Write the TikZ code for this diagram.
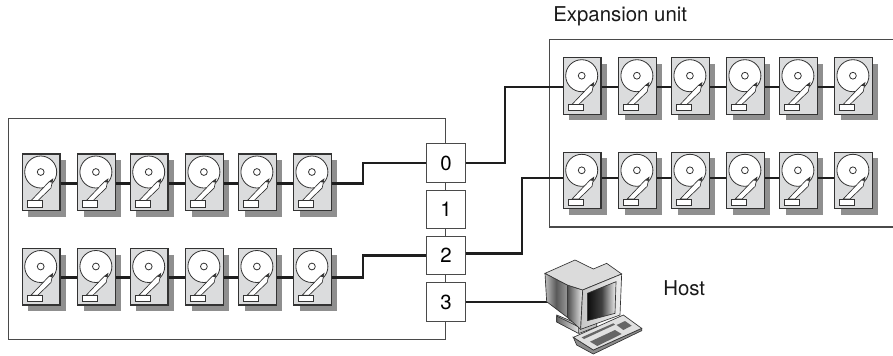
\documentclass[tikz,border=0pt]{standalone}
\usepackage{fontspec}
\setmainfont{TeX Gyre Heros}
\definecolor{edge}{HTML}{333333}
\definecolor{boxline}{HTML}{4A4A4A}
\definecolor{body}{HTML}{DBDCDD}
\definecolor{shade}{HTML}{8F8F8F}
\definecolor{link}{HTML}{1E1E1E}
\tikzset{
  px/.style={x=0.75pt,y=-0.75pt},
  diskbody/.style={draw=edge,fill=body,line width=0.8pt,minimum width=28.3pt,minimum height=42.4pt,inner sep=0pt},
  diskshadow/.style={fill=shade,draw=none},
  diskpart/.style={draw=edge,fill=white,line width=0.6pt},
  conn/.style={draw=link,line width=2pt,line join=miter},
  portbox/.style={draw=boxline,fill=white,line width=0.8pt,minimum width=28.8pt,minimum height=28.8pt,inner sep=0pt,font=\fontsize{15.3pt}{18pt}\selectfont},
  frameline/.style={draw=boxline,line width=0.8pt},
  lbl/.style={font=\fontsize{15.3pt}{18pt}\selectfont,inner sep=0pt,text=black!90},
  pcline/.style={draw=edge,line width=0.5pt}
}
% name, left, top
\newcommand{\hdd}[3]{%
  \begin{scope}[shift={(#2,#3)}]
    \fill[diskshadow] (6,6) rectangle (43.7,62.5);
    \node[diskbody] (#1) at (18.85,28.25) {};
    \draw[diskpart] (18.4,18) circle[radius=16];
    \draw[diskpart] (18.4,18) circle[radius=3.4];
    \draw[diskpart,line width=0.5pt] (8.7,46.7) -- (26.5,28) -- (30.5,25) -- (28.7,34) -- (15.5,46.7) -- cycle;
    \fill[edge] (26.5,28) -- (30.5,25) -- (29.6,28.5) -- cycle;
    \draw[diskpart] (5,46.7) rectangle (19.7,53);
  \end{scope}%
}
\begin{document}
\begin{tikzpicture}[px]
\useasboundingbox (0,0) rectangle (893,355);
% frames
\node[frameline,minimum width=327.6pt,minimum height=165.5pt,inner sep=0pt] (leftframe) at (227,229.2) {};
\coordinate (rtl) at (893,39.5);
\coordinate (rbl) at (893,227);
\coordinate (ra) at (549.5,39.5);
\coordinate (rb) at (549.5,227);
\draw[frameline] (rtl) -- (ra) -- (rb) -- (rbl);
% disks left
\hdd{a1}{22.3}{154}\hdd{a2}{77.5}{154}\hdd{a3}{130.3}{154}\hdd{a4}{185.5}{154}\hdd{a5}{238.5}{154}\hdd{a6}{293.5}{154}
\hdd{b1}{22.3}{248.5}\hdd{b2}{77.5}{248.5}\hdd{b3}{130.3}{248.5}\hdd{b4}{185.5}{248.5}\hdd{b5}{238.5}{248.5}\hdd{b6}{293.5}{248.5}
% disks right
\hdd{c1}{563.3}{57.7}\hdd{c2}{618.5}{57.7}\hdd{c3}{671.5}{57.7}\hdd{c4}{726.5}{57.7}\hdd{c5}{779.5}{57.7}\hdd{c6}{834.5}{57.7}
\hdd{e1}{563.3}{152.3}\hdd{e2}{618.5}{152.3}\hdd{e3}{671.5}{152.3}\hdd{e4}{726.5}{152.3}\hdd{e5}{779.5}{152.3}\hdd{e6}{834.5}{152.3}
% ports
\node[portbox] (p0) at (446,163) {0};
\node[portbox] (p1) at (446,209.5) {1};
\node[portbox] (p2) at (446,255.5) {2};
\node[portbox] (p3) at (446,302) {3};
% chains
\foreach \r/\s in {a/-0.8pt,b/-0.4pt,c/-0.9pt,e/1.9pt}{
  \draw[conn] ([yshift=\s]\r1.east) -- ([yshift=\s]\r2.west);
  \draw[conn] ([yshift=\s]\r2.east) -- ([yshift=\s]\r3.west);
  \draw[conn] ([yshift=\s]\r3.east) -- ([yshift=\s]\r4.west);
  \draw[conn] ([yshift=\s]\r4.east) -- ([yshift=\s]\r5.west);
  \draw[conn] ([yshift=\s]\r5.east) -- ([yshift=\s]\r6.west);
}
% links
\coordinate (aout) at ([yshift=-0.8pt]a6.east);
\coordinate (bout) at ([yshift=-0.4pt]b6.east);
\coordinate (cin) at ([yshift=-0.9pt]c1.west);
\coordinate (ein) at ([yshift=1.9pt]e1.west);
\coordinate (twoout) at ([yshift=1.5pt]p2.east);
\coordinate (ka) at (363,0);
\coordinate (kc) at (505,0);
\coordinate (ke) at (522,0);
\draw[conn] (aout) -- (ka |- aout) -- (ka |- p0.west) -- (p0.west);
\draw[conn] (bout) -- (ka |- bout) -- (ka |- p2.west) -- (p2.west);
\draw[conn] (p0.east) -- (kc |- p0.east) -- (kc |- cin) -- (cin);
\draw[conn] (twoout) -- (ke |- twoout) -- (ke |- ein) -- (ein);
\coordinate (host) at (552,302);
\draw[conn] (p3.east) -- (host);
% computer (coordinates in 3x zoom units)
\begin{scope}[shift={(510,260)},x=0.25pt,y=-0.25pt]
  % stand
  \draw[pcline,fill=black!25] (140,165) -- (140,185) -- (208,220) -- (260,200) -- (260,175) -- (200,190) -- cycle;
  \draw[pcline,left color=black!60,right color=black!10] (140,168) -- (205,200) -- (205,220) -- (140,186) -- cycle;
  % monitor back panel
  \draw[pcline,left color=black!25,right color=black!40,middle color=black!65] (105,40) -- (172,75) -- (172,172) -- (110,125) -- cycle;
  % monitor side panel
  \draw[pcline,left color=black!70,right color=black!8] (172,75) -- (218,90) -- (212,208) -- (172,172) -- cycle;
  % top
  \draw[pcline,fill=black!14] (105,40) -- (195,0) -- (250,27) -- (290,10) -- (335,42) -- (218,90) -- (172,75) -- cycle;
  % front
  \draw[pcline,left color=black!22,right color=black!7] (218,90) -- (335,42) -- (330,165) -- (212,208) -- cycle;
  % screen
  \draw[pcline,left color=black!95,right color=black!5,middle color=black!75] (232,100) -- (318,65) -- (315,160) -- (232,182) -- cycle;
  % keyboard
  \draw[pcline,fill=black!45] (190,232) -- (200,255) -- (250,282) -- (395,212) -- (395,205) -- (250,270) -- cycle;
  \draw[pcline,fill=black!12] (190,232) -- (340,165) -- (395,205) -- (250,270) -- cycle;
  \fill[black!60] (240,245) -- (315,210) -- (335,222) -- (262,258) -- cycle;
  \fill[black!60] (215,232) -- (310,190) -- (315,194) -- (222,237) -- cycle;
  \fill[black!60] (320,195) -- (345,183) -- (365,197) -- (340,210) -- cycle;
\end{scope}
% labels
\node[lbl,anchor=base west] (exp) at (553,21) {Expansion unit};
\node[lbl,anchor=base west] (hostlabel) at (663,295) {Host};
\end{tikzpicture}
\end{document}
